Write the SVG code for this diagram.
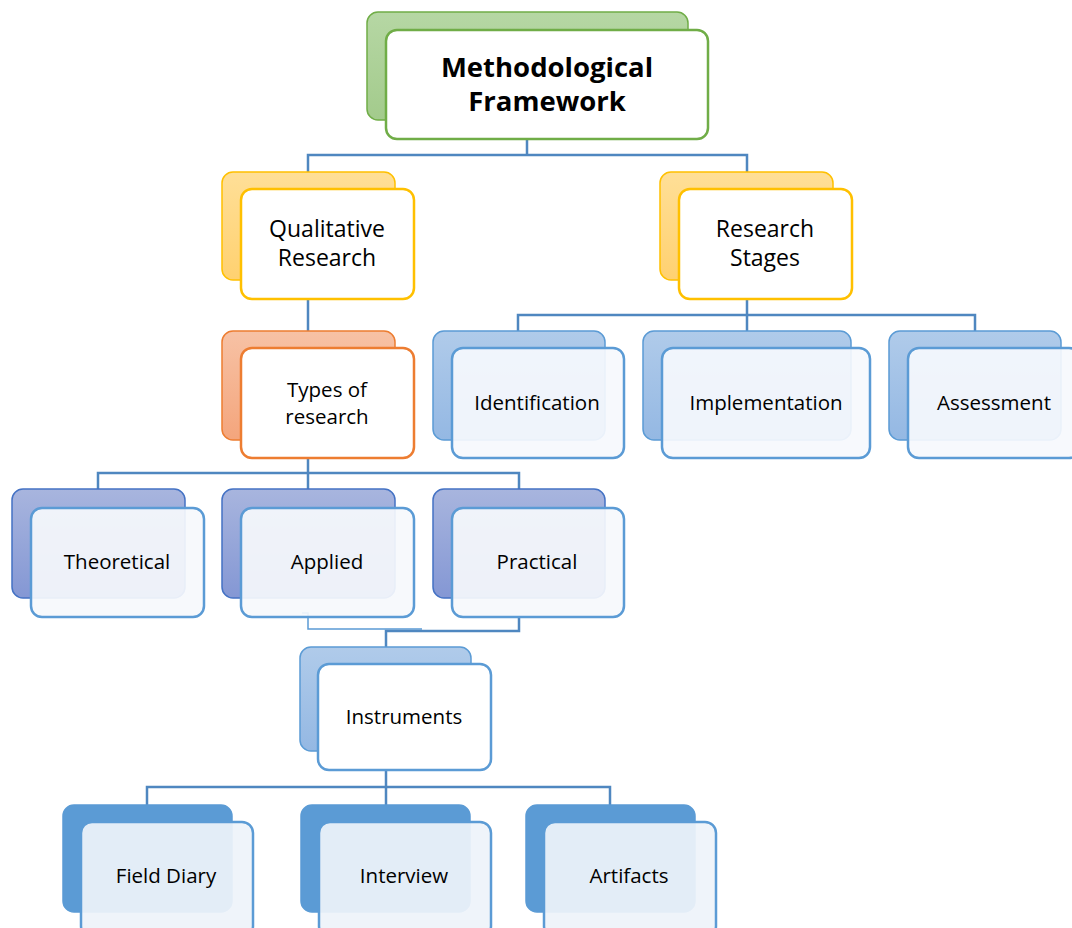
<svg xmlns="http://www.w3.org/2000/svg" width="1072" height="928" viewBox="0 0 1072 928">
<defs>
<linearGradient id="gGreen" x1="0" y1="0" x2="0" y2="1"><stop offset="0" stop-color="#b6d7a4"/><stop offset="1" stop-color="#a3cb8c"/></linearGradient>
<linearGradient id="gYellow" x1="0" y1="0" x2="0" y2="1"><stop offset="0" stop-color="#ffdf97"/><stop offset="1" stop-color="#ffd170"/></linearGradient>
<linearGradient id="gOrange" x1="0" y1="0" x2="0" y2="1"><stop offset="0" stop-color="#f7c2a5"/><stop offset="1" stop-color="#f4a57c"/></linearGradient>
<linearGradient id="gPurple" x1="0" y1="0" x2="0" y2="1"><stop offset="0" stop-color="#a8b5de"/><stop offset="1" stop-color="#8497d4"/></linearGradient>
<linearGradient id="gLight" x1="0" y1="0" x2="0" y2="1"><stop offset="0" stop-color="#b0cbea"/><stop offset="1" stop-color="#94b8e3"/></linearGradient>
</defs>
<style>
.conn{fill:none;stroke:#4f87c0;stroke-width:2.5}
.thin{fill:none;stroke:#5b9bd5;stroke-width:1.5}
.bk{stroke-width:1.5}
.fr{stroke-width:2.5}
.green .bk{fill:url(#gGreen);stroke:#70ad47}
.green .fr{fill:#ffffff;stroke:#70ad47}
.yellow .bk{fill:url(#gYellow);stroke:#ffc000}
.yellow .fr{fill:#ffffff;stroke:#ffc000}
.orange .bk{fill:url(#gOrange);stroke:#ed7d31}
.orange .fr{fill:#ffffff;stroke:#ed7d31}
.purple .bk{fill:url(#gPurple);stroke:#4472c4}
.purple .fr{fill:#f6f8fc;fill-opacity:0.92;stroke:#5b9bd5}
.light .bk{fill:url(#gLight);stroke:#5b9bd5}
.light .fr{fill:#f6f9fd;fill-opacity:0.92;stroke:#5b9bd5}
.lightw .bk{fill:url(#gLight);stroke:#5b9bd5}
.lightw .fr{fill:#ffffff;stroke:#5b9bd5}
.dark .bk{fill:#5b9bd5;stroke:#5b9bd5}
.dark .fr{fill:#eef3fa;fill-opacity:0.93;stroke:#5b9bd5}
text{font-family:"Open Sans","Liberation Sans",sans-serif;fill:#000;text-anchor:middle}
.t{font-size:20.5px}
.tb{font-size:27.5px;font-weight:bold}
.tm{font-size:23px}
</style>
<g id="connectors">
<path class="conn" d="M527 139V155M308 172V155H747V172"/>
<path class="conn" d="M308 299V331"/>
<path class="conn" d="M308 458V473M98 490V473H519V490M308 473V490"/>
<path class="conn" d="M747 299V315M518 331V315H975V331M747 315V331"/>
<path class="thin" d="M302 613H308V629H422"/>
<path class="conn" d="M519 617V631H386V647"/>
<path class="conn" d="M386 770V787M147 805V787H610V805M386 787V805"/>
</g>
<g id="node-methodological" class="green">
<rect class="bk" x="367" y="12" width="321" height="108" rx="11"/>
<rect class="fr" x="386" y="30" width="322" height="109" rx="11"/>
<text class="tb" x="547" y="77">Methodological</text>
<text class="tb" x="547" y="111">Framework</text>
</g>
<g id="node-qualitative" class="yellow">
<rect class="bk" x="222" y="172" width="173" height="108" rx="11"/>
<rect class="fr" x="241" y="189" width="173" height="110" rx="11"/>
<text class="tm" x="327" y="237">Qualitative</text>
<text class="tm" x="327" y="266">Research</text>
</g>
<g id="node-stages" class="yellow">
<rect class="bk" x="660" y="172" width="173" height="108" rx="11"/>
<rect class="fr" x="679" y="189" width="173" height="110" rx="11"/>
<text class="tm" x="765" y="237">Research</text>
<text class="tm" x="765" y="266">Stages</text>
</g>
<g id="node-types" class="orange">
<rect class="bk" x="222" y="331" width="173" height="109" rx="11"/>
<rect class="fr" x="241" y="348" width="173" height="110" rx="11"/>
<text class="t" x="327" y="397">Types of</text>
<text class="t" x="327" y="424">research</text>
</g>
<g id="node-theoretical" class="purple">
<rect class="bk" x="12" y="489" width="173" height="109" rx="11"/>
<rect class="fr" x="31" y="508" width="173" height="109" rx="11"/>
<text class="t" x="117" y="569">Theoretical</text>
</g>
<g id="node-applied" class="purple">
<rect class="bk" x="222" y="489" width="173" height="109" rx="11"/>
<rect class="fr" x="241" y="508" width="173" height="109" rx="11"/>
<text class="t" x="327" y="569">Applied</text>
</g>
<g id="node-practical" class="purple">
<rect class="bk" x="433" y="489" width="172" height="109" rx="11"/>
<rect class="fr" x="452" y="508" width="172" height="109" rx="11"/>
<text class="t" x="537" y="569">Practical</text>
</g>
<g id="node-identification" class="light">
<rect class="bk" x="433" y="331" width="172" height="109" rx="11"/>
<rect class="fr" x="452" y="348" width="172" height="110" rx="11"/>
<text class="t" x="537" y="410">Identification</text>
</g>
<g id="node-implementation" class="light">
<rect class="bk" x="643" y="331" width="208" height="109" rx="11"/>
<rect class="fr" x="662" y="348" width="208" height="110" rx="11"/>
<text class="t" x="766" y="410">Implementation</text>
</g>
<g id="node-assessment" class="light">
<rect class="bk" x="889" y="331" width="172" height="109" rx="11"/>
<rect class="fr" x="908" y="348" width="172" height="110" rx="11"/>
<text class="t" x="994" y="410">Assessment</text>
</g>
<g id="node-instruments" class="lightw">
<rect class="bk" x="300" y="647" width="171" height="104" rx="11"/>
<rect class="fr" x="318" y="664" width="173" height="106" rx="11"/>
<text class="t" x="404" y="724">Instruments</text>
</g>
<g id="node-fielddiary" class="dark">
<rect class="bk" x="63" y="805" width="169" height="107" rx="11"/>
<rect class="fr" x="81" y="822" width="172" height="115" rx="11"/>
<text class="t" x="166" y="883">Field Diary</text>
</g>
<g id="node-interview" class="dark">
<rect class="bk" x="301" y="805" width="169" height="107" rx="11"/>
<rect class="fr" x="319" y="822" width="172" height="115" rx="11"/>
<text class="t" x="404" y="883">Interview</text>
</g>
<g id="node-artifacts" class="dark">
<rect class="bk" x="526" y="805" width="169" height="107" rx="11"/>
<rect class="fr" x="544" y="822" width="172" height="115" rx="11"/>
<text class="t" x="629" y="883">Artifacts</text>
</g>
</svg>
